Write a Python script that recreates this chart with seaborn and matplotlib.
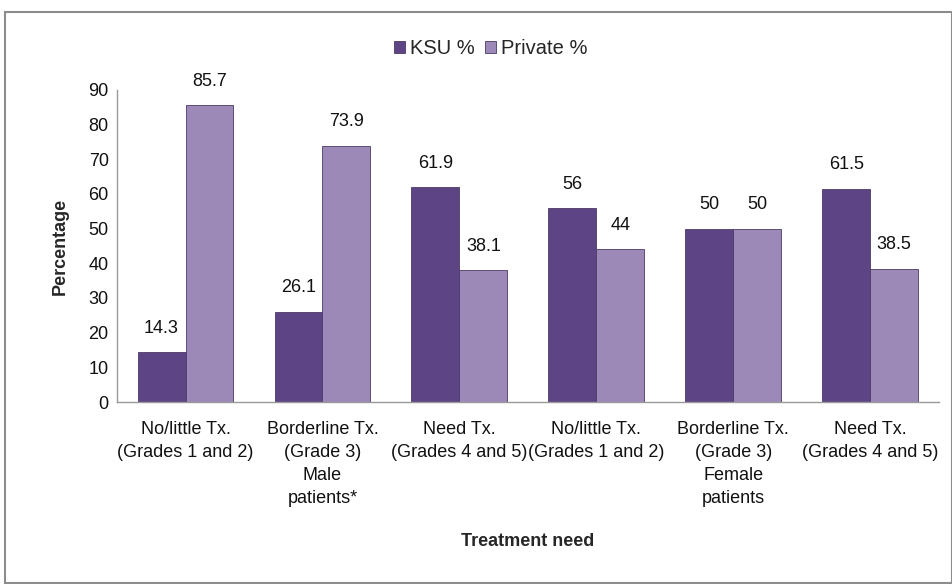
import matplotlib
matplotlib.use("Agg")
import matplotlib.pyplot as plt
import seaborn as sns
import pandas as pd
import numpy as np
from matplotlib.patches import Rectangle
from matplotlib.ticker import FixedLocator

categories = ["No/little Tx.\n(Grades 1 and 2)",
              "Borderline Tx.\n(Grade 3)\nMale\npatients*",
              "Need Tx.\n(Grades 4 and 5)",
              "No/little Tx.\n(Grades 1 and 2)",
              "Borderline Tx.\n(Grade 3)\nFemale\npatients",
              "Need Tx.\n(Grades 4 and 5)"]
ksu = [14.3, 26.1, 61.9, 56, 50, 61.5]
private = [85.7, 73.9, 38.1, 44, 50, 38.5]
series = ["KSU %", "Private %"]
yticks = [0, 10, 20, 30, 40, 50, 60, 70, 80, 90]

keys = [f"c{i}" for i in range(len(categories))]
df = pd.DataFrame({
    "cat": keys * 2,
    "series": [series[0]] * len(keys) + [series[1]] * len(keys),
    "value": ksu + private,
})

sns.set_style("white")
plt.rcParams["font.family"] = ["Liberation Sans", "DejaVu Sans"]
FS = 13

fig = plt.figure(figsize=(9.53, 5.84), dpi=100)
ax = fig.add_axes([0.1228, 0.3116, 0.8622, 0.5344])

palette = {"KSU %": "#5c4485", "Private %": "#9c89b8"}
sns.barplot(data=df, x="cat", y="value", hue="series", order=keys,
            hue_order=series, palette=palette, width=0.7, saturation=1,
            edgecolor="#4a3a66", linewidth=0.6, ax=ax, legend=True)

for cont in ax.containers:
    ax.bar_label(cont, fmt="%g", padding=11, fontsize=FS, color="#111111")

ax.set_ylim(0, 90)
ax.set_xlim(-0.5, len(keys) - 0.5)
ax.set_yticks(yticks)
ax.tick_params(axis="y", labelsize=FS, length=0, pad=6, colors="#111111")
ax.set_xticks(range(len(keys)))
ax.set_xticklabels(categories, fontsize=FS, color="#111111", linespacing=1.45)
ax.tick_params(axis="x", which="major", length=0, pad=14)
ax.xaxis.set_minor_locator(FixedLocator(np.arange(-0.5, len(keys), 1.0)))
ax.tick_params(axis="x", which="minor", length=5, width=1, color="#999999", direction="out")

for s in ["top", "right"]:
    ax.spines[s].set_visible(False)
for s in ["left", "bottom"]:
    ax.spines[s].set_color("#999999")
    ax.spines[s].set_linewidth(1)

ax.set_ylabel("Percentage", fontsize=FS, fontweight="bold", labelpad=14)
ax.set_xlabel("")
fig.text(0.554, 0.073, "Treatment need", ha="center", va="center",
         fontsize=FS, fontweight="bold")

leg = ax.legend(loc="center", bbox_to_anchor=(0.455, 1.132), ncol=2, frameon=False,
                fontsize=14.5, handlelength=0.55, handleheight=0.55,
                handletextpad=0.25, columnspacing=0.5)

fig.patches.append(Rectangle((5 / 953, 0.002), 947 / 953, 1 - 12 / 584 - 0.002,
                             transform=fig.transFigure, fill=False,
                             edgecolor="#8c8c8c", linewidth=1.5))

fig.savefig("out.png", dpi=100)
